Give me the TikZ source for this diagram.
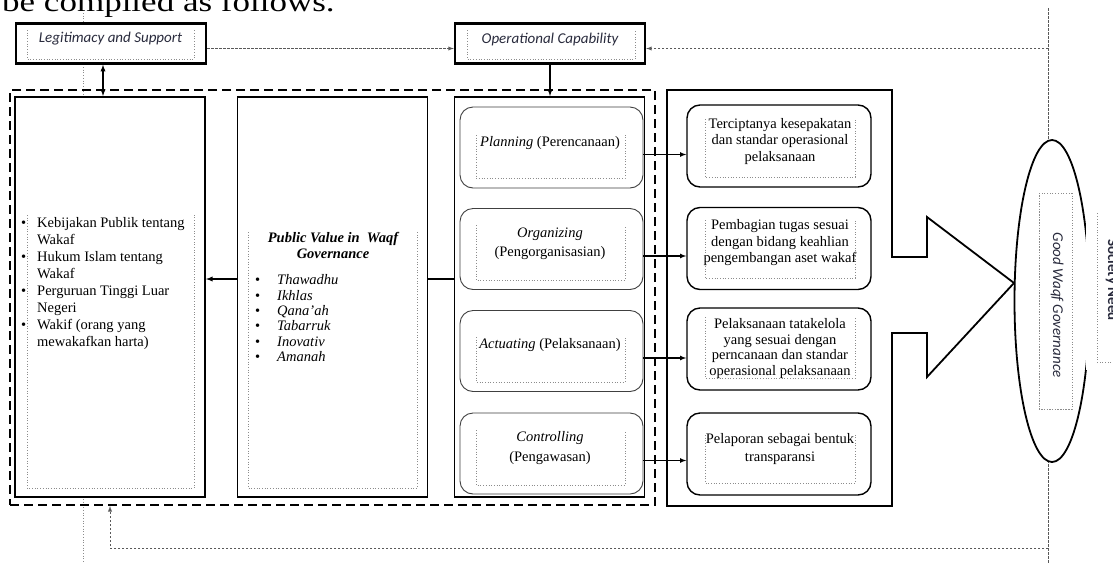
\documentclass[tikz,border=0pt]{standalone}
\usepackage{fontspec}
\setmainfont{Liberation Serif}
\newfontfamily\calibri{Carlito}
\usetikzlibrary{shapes.geometric,calc}

\definecolor{inkblue}{rgb}{0.16,0.17,0.24}
\definecolor{framegray}{gray}{0.55}
\definecolor{linkgray}{gray}{0.35}
\tikzstyle{topbox}=[draw, line width=2.4pt, fill=white, minimum width=190pt,
                    minimum height=40pt, inner sep=0pt]
\tikzstyle{colbox}=[draw, line width=1.8pt, fill=white, minimum width=190pt,
                    minimum height=400pt, inner sep=0pt]
\tikzstyle{phase}=[draw=black!75, line width=0.9pt, rounded corners=13pt,
                   fill=white, minimum width=183pt, minimum height=81pt]
\tikzstyle{result}=[draw, line width=1.4pt, rounded corners=13pt, fill=white,
                    minimum width=184pt, minimum height=82pt]
\tikzstyle{frame}=[framegray, dotted, line width=0.7pt]
\tikzstyle{link}=[line width=1.3pt]
\tikzstyle{feedback}=[linkgray, dash pattern=on 2.5pt off 1.5pt, line width=0.9pt]
\tikzstyle{scopeline}=[draw, dash pattern=on 9pt off 5pt, line width=2pt,
                       inner sep=0pt]
\tikzstyle{serif}=[font=\fontsize{14.5}{17}\selectfont, inner sep=0pt, align=center]
\tikzstyle{sans}=[font=\calibri\itshape\fontsize{15}{18}\selectfont, text=inkblue,
                  inner sep=0pt]

\begin{document}
\begin{tikzpicture}[x=1pt, y=-1pt, >=latex]
  \clip (0,0) rectangle (1113,563);
  \node[anchor=base west, inner sep=0pt, font=\fontsize{28}{28}\selectfont] (caption)
    at (2,11) {\scalebox{1.25}[1]{be compiled as follows.}};
  %
  % feedback lines behind everything
  \coordinate (ltop) at (83,13);
  \coordinate (lbot) at (83,563);
  \coordinate (rtop) at (1048,8);
  \coordinate (rbot) at (1048,563);
  \draw[frame] (ltop) -- (lbot);
  \draw[feedback] (rtop) -- (rbot);
  %
  \node[scopeline, minimum width=645pt, minimum height=415pt] (core) at (332.5,297.5) {};
  %
  % Top boxes
  \node[topbox] (legit) at (111,43.5) {};
  \node[topbox] (opcap) at (550,43.5) {};
  %
  % Columns
  \node[colbox] (stake) at (110,297) {};
  \node[colbox] (pubval) at (332.5,297) {};
  \node[colbox] (manage) at (549.5,297) {};
  \foreach \name/\y in {plan/147.5, org/249, act/351, ctrl/453.5}
    \node[phase] (\name) at (551.5,\y) {};
  %
  % Big arrow to the goal
  \draw[line width=1.8pt] (667,506) -- (667,90) -- (892,90) -- (892,257) -- (927,257)
    -- (927,217) -- (1014,283) -- (927,377) -- (927,333) -- (892,333) -- (892,506) -- cycle;
  \foreach \name/\y in {res1/146, res2/248.5, res3/349, res4/454}
    \node[result] (\name) at (779,\y) {};
  %
  \node[ellipse, draw, line width=1.8pt, fill=white, minimum width=75pt,
        minimum height=322pt, inner sep=0pt] (gwg) at (1052,301) {};
  \node[fill=white, minimum width=40pt, minimum height=165pt, inner sep=0pt] (need)
    at (1106,287.5) {};
  %
  % text box borders
  \foreach \xa/\ya/\xb/\yb in {27/30/194/59, 467/30/635/59, 27/215/194/488,
           248/232/417/488, 476/135/625/178, 476/225/625/280, 476/337/625/382,
           476/430/625/485, 705/119/855/177, 705/220/855/278, 705/317/855/378,
           705/435/855/483, 1072/193/1039/409, 1115/212/1097/362}
    \draw[frame] (\xa,\ya) -- (\xa,\yb) -- (\xb,\yb) -- (\xb,\ya);
  \draw[frame] (1072,193) -- (1039,193) -- (1039,409) -- (1072,409);
  %
  % Texts
  \node[sans] at (110.5,39) {Legitimacy and Support};
  \node[sans] at (550,39) {Operational Capability};
  \node[serif, anchor=north west, align=left] at (21,215.5)
    {\begin{tabular}{@{}p{16pt}@{}l@{}}
     \textbullet & Kebijakan Publik tentang\\ & Wakaf\\
     \textbullet & Hukum Islam tentang\\ & Wakaf\\
     \textbullet & Perguruan Tinggi Luar\\ & Negeri\\
     \textbullet & Wakif (orang yang\\ & mewakafkan harta)
     \end{tabular}};
  \node[serif, font=\bfseries\itshape\fontsize{14.5}{16}\selectfont] at (333,245)
    {Public Value in\ \ Waqf\\Governance};
  \node[serif, font=\fontsize{14.5}{15.4}\selectfont, anchor=north west, align=left]
    at (255,273.7)
    {\begin{tabular}{@{}p{22pt}@{}l@{}}
     \textbullet & \textit{Thawadhu}\\ \textbullet & \textit{Ikhlas}\\
     \textbullet & \textit{Qana’ah}\\ \textbullet & \textit{Tabarruk}\\
     \textbullet & \textit{Inovativ}\\ \textbullet & \textit{Amanah}
     \end{tabular}};
  \node[serif] at (550,143) {\textit{Planning} (Perencanaan)};
  \node[serif, font=\fontsize{14.5}{19}\selectfont] at (550,243.5)
    {\textit{Organizing}\\(Pengorganisasian)};
  \node[serif] at (550,345) {\textit{Actuating} (Pelaksanaan)};
  \node[serif, font=\fontsize{14.5}{20}\selectfont] at (550,448)
    {\textit{Controlling}\\(Pengawasan)};
  \node[serif, font=\fontsize{14.5}{16.5}\selectfont] at (780,141.5)
    {Terciptanya kesepakatan\\dan standar operasional\\pelaksanaan};
  \node[serif, font=\fontsize{14.5}{16.5}\selectfont] at (780,243)
    {Pembagian tugas sesuai\\dengan bidang keahlian\\pengembangan aset wakaf};
  \node[serif, font=\fontsize{14.5}{15.7}\selectfont] at (780,348.5)
    {Pelaksanaan tatakelola\\yang sesuai dengan\\perncanaan dan standar\\operasional pelaksanaan};
  \node[serif, font=\fontsize{14.5}{18}\selectfont] at (780,449)
    {Pelaporan sebagai bentuk\\transparansi};
  \node[sans, rotate=-90] at (1057,305) {Good Waqf Governance};
  \node[font=\calibri\bfseries\fontsize{15}{18}\selectfont, text=inkblue, rotate=-90,
        anchor=base, inner sep=0pt] at (1108,280) {Society Need};
  %
  % Connections
  \draw[link, <->] ($(legit.south)+(-8,0)$) -- ($(stake.north)+(-7,0)$);
  \draw[feedback, ->] ($(legit.east)+(0,5)$) -- ($(opcap.west)+(0,5)$);
  \coordinate (fbtop) at (1048,48.5);
  \draw[feedback, ->] (fbtop) -- (opcap.east |- fbtop);
  \draw[link, ->] (opcap.south) -- (opcap.south |- manage.north);
  \draw[link, ->] ($(pubval.west)+(0,-18)$) -- ($(stake.east)+(0,-18)$);
  \draw[link] ($(manage.west)+(0,-18)$) -- ($(pubval.east)+(0,-18)$);
  \foreach \src/\dst in {plan/res1, org/res2, act/res3, ctrl/res4}
    \draw[line width=1.1pt, ->] ($(\src.east)+(0,7)$) -- ($(\src.east -| \dst.west)+(0,7)$);
  \coordinate (fbbot) at (110,548);
  \draw[feedback, ->] (rbot |- fbbot) -- (fbbot) -- (fbbot |- core.south);
\end{tikzpicture}
\end{document}
